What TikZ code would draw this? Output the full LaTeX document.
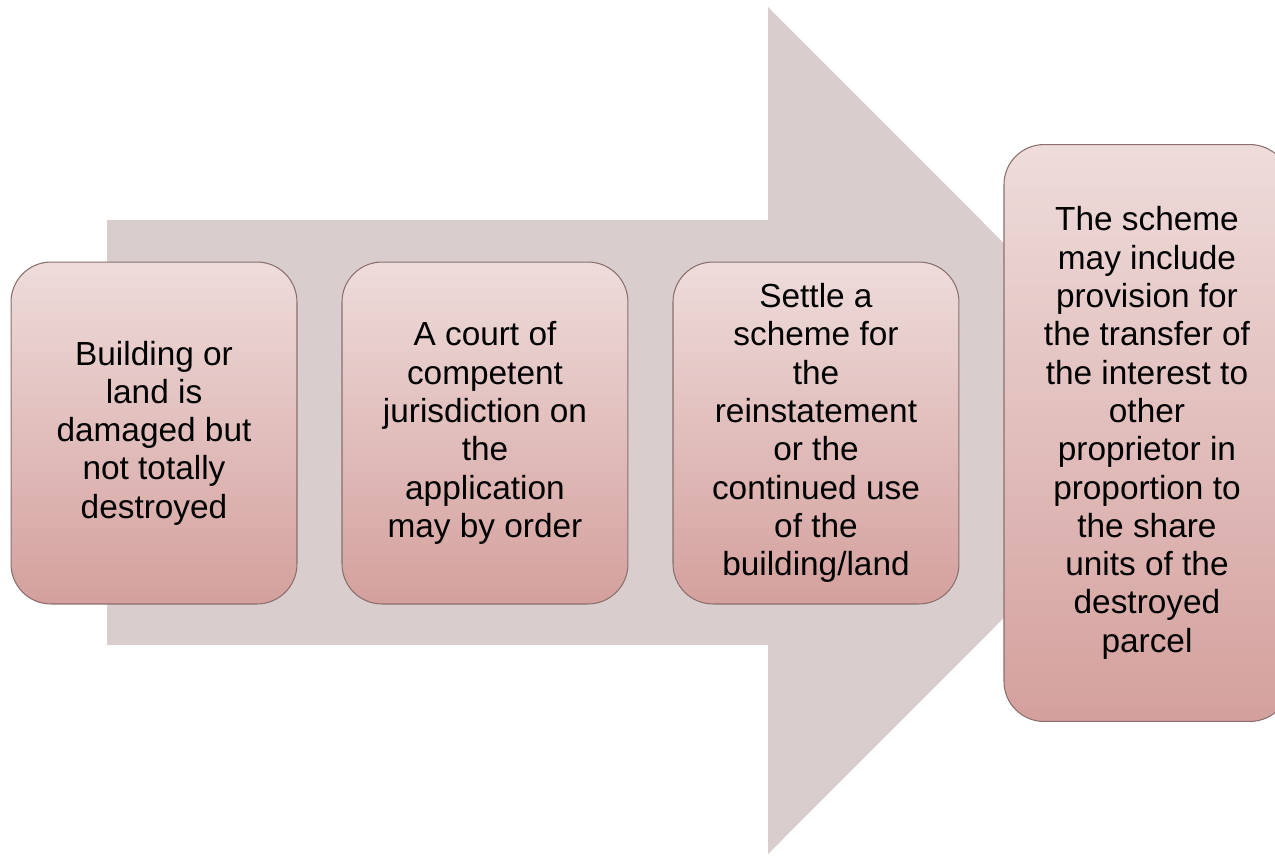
\documentclass[tikz,border=0pt]{standalone}
\usepackage{fontspec}
\setmainfont{Liberation Sans}
\usetikzlibrary{positioning}

\definecolor{arrowgrey}{HTML}{D9CECD}
\definecolor{boxtop}{HTML}{EEDCDB}
\definecolor{boxbottom}{HTML}{D4A09D}
\definecolor{boxline}{HTML}{8A6F6E}

\tikzset{
  stagebox/.style={draw=boxline, line width=0.6pt, rounded corners=0.8cm,
    top color=boxtop, bottom color=boxbottom,
    minimum width=5.72cm, minimum height=6.84cm, inner sep=0pt,
    align=center, font=\fontsize{19}{21.8}\selectfont},
  node distance=0.88cm
}

\begin{document}
\begin{tikzpicture}[x=0.02cm,y=-0.02cm]
\useasboundingbox (0,0) rectangle (1275,856);

% big arrow behind the stages
\fill[arrowgrey] (107,220) -- (768,220) -- (768,7) -- (1191,430.5)
  -- (768,854) -- (768,645) -- (107,645) -- cycle;

\node[stagebox] (damage) at (154,433)
  {Building or\\land is\\damaged but\\not totally\\destroyed};
\node[stagebox, right=of damage] (court)
  {A court of\\competent\\jurisdiction on\\the\\application\\may by order};
\node[stagebox, right=of court] (scheme)
  {Settle a\\scheme for\\the\\reinstatement\\or the\\continued use\\of the\\building/land};
\node[stagebox, right=of scheme, minimum height=11.54cm] (transfer)
  {The scheme\\may include\\provision for\\the transfer of\\the interest to\\other\\proprietor in\\proportion to\\the share\\units of the\\destroyed\\parcel};
\end{tikzpicture}
\end{document}
